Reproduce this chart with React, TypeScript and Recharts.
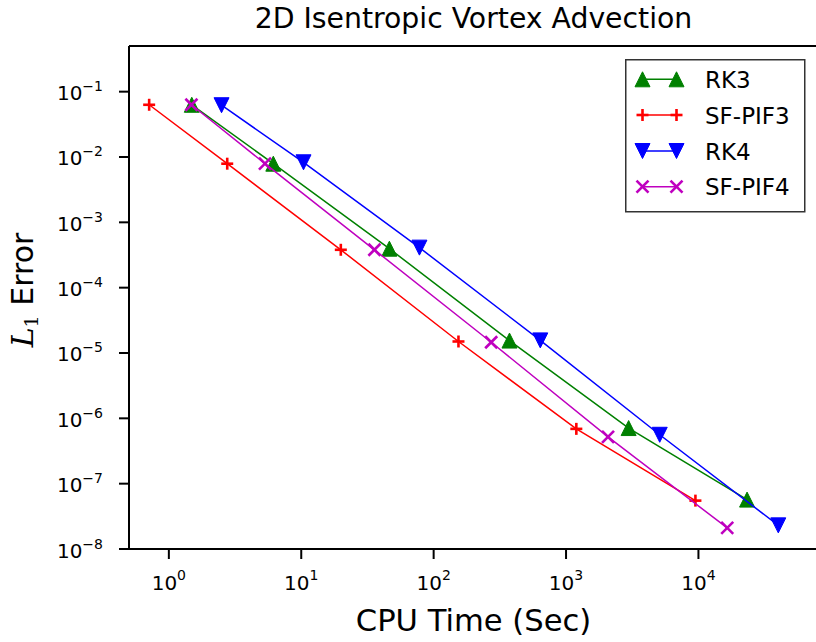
import React from 'react';
import { ScatterChart, Scatter, XAxis, YAxis, Legend, Label } from 'recharts';

const FONT = '"DejaVu Sans", sans-serif';

// CPU time (s) and L1 error for each time integrator
const rk3Time = [1.49, 6.15, 46.3, 374, 2970, 23300];
const rk3Err = [0.063, 0.0079, 3.95e-4, 1.55e-5, 7.1e-7, 5.7e-8];
const pif3Time = [0.71, 2.76, 19.9, 154, 1196, 9490];
const pif3Err = [0.063, 0.0079, 3.8e-4, 1.5e-5, 6.9e-7, 5.5e-8];
const rk4Time = [2.5, 10.4, 78.1, 639, 5100, 40100];
const rk4Err = [0.062, 0.0083, 4.1e-4, 1.56e-5, 5.6e-7, 2.3e-8];
const pif4Time = [1.48, 5.32, 35.7, 272, 2075, 16500];
const pif4Err = [0.063, 0.0079, 3.8e-4, 1.46e-5, 5.2e-7, 2.1e-8];

const seriesNames = ['RK3', 'SF-PIF3', 'RK4', 'SF-PIF4'];

// Axis limits and decade ticks
const xDomain = [0.5, 8e4];
const yDomain = [1e-8, 0.5];
const xMajor = [1, 10, 100, 1000, 10000];
const yMajor = [1e-8, 1e-7, 1e-6, 1e-5, 1e-4, 1e-3, 1e-2, 1e-1];

const minorTicks = (lo: number, hi: number) => {
  const out: number[] = [];
  for (let k = Math.floor(Math.log10(lo)); k <= Math.ceil(Math.log10(hi)); k++) {
    for (let m = 2; m <= 9; m++) {
      const v = m * Math.pow(10, k);
      if (v >= lo * 0.999 && v <= hi * 1.001) out.push(v);
    }
  }
  return out;
};
const xMinor = minorTicks(xDomain[0], xDomain[1]);
const yMinor = minorTicks(yDomain[0], yDomain[1]);

const toPoints = (t: number[], e: number[]) => t.map((v, i) => ({ t: v, err: e[i] }));

const GREEN = '#008000';
const RED = '#ff0000';
const BLUE = '#0000ff';
const MAGENTA = '#bf00bf';

type MarkerKind = 'up' | 'plus' | 'down' | 'cross';

const Marker = ({ cx, cy, kind, color }: { cx: number; cy: number; kind: MarkerKind; color: string }) => {
  const h = 7.5;
  if (kind === 'up') {
    return (
      <polygon
        points={`${cx},${cy - h} ${cx - h},${cy + h} ${cx + h},${cy + h}`}
        fill={color}
        stroke={color}
        strokeWidth={1}
        strokeLinejoin="miter"
      />
    );
  }
  if (kind === 'down') {
    return (
      <polygon
        points={`${cx},${cy + h} ${cx - h},${cy - h} ${cx + h},${cy - h}`}
        fill={color}
        stroke={color}
        strokeWidth={1}
        strokeLinejoin="miter"
      />
    );
  }
  if (kind === 'plus') {
    const s = 6;
    return (
      <g stroke={color} strokeWidth={2.6}>
        <line x1={cx - s} y1={cy} x2={cx + s} y2={cy} />
        <line x1={cx} y1={cy - s} x2={cx} y2={cy + s} />
      </g>
    );
  }
  const s = 6;
  return (
    <g stroke={color} strokeWidth={2.6}>
      <line x1={cx - s} y1={cy - s} x2={cx + s} y2={cy + s} />
      <line x1={cx - s} y1={cy + s} x2={cx + s} y2={cy - s} />
    </g>
  );
};

const series = [
  { name: seriesNames[0], data: toPoints(rk3Time, rk3Err), color: GREEN, kind: 'up' as MarkerKind },
  { name: seriesNames[1], data: toPoints(pif3Time, pif3Err), color: RED, kind: 'plus' as MarkerKind },
  { name: seriesNames[2], data: toPoints(rk4Time, rk4Err), color: BLUE, kind: 'down' as MarkerKind },
  { name: seriesNames[3], data: toPoints(pif4Time, pif4Err), color: MAGENTA, kind: 'cross' as MarkerKind },
];

const expLabel = (v: number) => {
  const e = Math.round(Math.log10(v));
  return e < 0 ? `\u2212${-e}` : `${e}`;
};

const XTick = (props: any) => {
  const { x, y, payload } = props;
  return (
    <text x={x} y={y + 31} textAnchor="middle" fontFamily={FONT} fontSize={20} fill="#000">
      <tspan>10</tspan>
      <tspan dy={-10} fontSize={14}>{expLabel(payload.value)}</tspan>
    </text>
  );
};

const YTick = (props: any) => {
  const { x, y, payload } = props;
  return (
    <text x={x} y={y + 8.5} textAnchor="end" fontFamily={FONT} fontSize={20} fill="#000">
      <tspan>10</tspan>
      <tspan dy={-9} fontSize={14}>{expLabel(payload.value)}</tspan>
    </text>
  );
};

const LegendBox = () => {
  const rowY = [20.3, 56, 92, 127.7];
  return (
    <svg width={181} height={154} style={{ display: 'block' }}>
      <rect x={0.75} y={0.75} width={179} height={152} fill="#fff" stroke="#333" strokeWidth={1.5} />
      {series.map((s, i) => (
        <g key={s.name}>
          <line x1={17.5} y1={rowY[i]} x2={51.5} y2={rowY[i]} stroke={s.color} strokeWidth={1.5} />
          <Marker cx={17.5} cy={rowY[i]} kind={s.kind} color={s.color} />
          <Marker cx={51.5} cy={rowY[i]} kind={s.kind} color={s.color} />
          <text x={80} y={rowY[i] + 8.5} fontFamily={FONT} fontSize={23} fill="#000">
            {s.name}
          </text>
        </g>
      ))}
    </svg>
  );
};

export default function App() {
  return (
    <div style={{ position: 'absolute', left: 0, top: 0, width: 816, height: 642, overflow: 'hidden', background: '#fff' }}>
      <svg width={816} height={40} style={{ position: 'absolute', left: 0, top: 0 }}>
        <text x={473.5} y={28} textAnchor="middle" fontFamily={FONT} fontSize={28.3} fill="#000">
          2D Isentropic Vortex Advection
        </text>
      </svg>
      <div style={{ position: 'absolute', left: 0, top: 0 }}>
        <ScatterChart width={830} height={642} margin={{ top: 46, right: 12, bottom: 33, left: 0 }}>
          {/* minor log ticks: zero-size axes sitting on the frame */}
          <XAxis
            xAxisId="minor"
            dataKey="t"
            type="number"
            scale="log"
            domain={xDomain}
            allowDataOverflow
            ticks={xMinor}
            interval={0}
            tick={false}
            tickSize={5}
            tickLine={{ stroke: '#000', strokeWidth: 1.3 }}
            axisLine={false}
            height={0}
          />
          <YAxis
            yAxisId="minor"
            dataKey="err"
            type="number"
            scale="log"
            domain={yDomain}
            allowDataOverflow
            ticks={yMinor}
            interval={0}
            tick={false}
            tickSize={5}
            tickLine={{ stroke: '#000', strokeWidth: 1.3 }}
            axisLine={false}
            width={0}
          />
          <XAxis
            xAxisId="main"
            dataKey="t"
            type="number"
            scale="log"
            domain={xDomain}
            allowDataOverflow
            ticks={xMajor}
            interval={0}
            tick={<XTick />}
            tickSize={10}
            tickMargin={0}
            tickLine={{ stroke: '#000', strokeWidth: 2 }}
            axisLine={{ stroke: '#000', strokeWidth: 2 }}
            height={60}
          >
            <Label
              content={(p: any) => {
                const vb = p.viewBox || { x: 129, y: 549, width: 689 };
                return (
                  <text x={vb.x + vb.width / 2} y={vb.y + 82} textAnchor="middle" fontFamily={FONT} fontSize={30.6} fill="#000">
                    CPU Time (Sec)
                  </text>
                );
              }}
            />
          </XAxis>
          <YAxis
            yAxisId="main"
            dataKey="err"
            type="number"
            scale="log"
            domain={yDomain}
            allowDataOverflow
            ticks={yMajor}
            interval={0}
            tick={<YTick />}
            tickSize={10}
            tickMargin={16}
            tickLine={{ stroke: '#000', strokeWidth: 2 }}
            axisLine={{ stroke: '#000', strokeWidth: 2 }}
            width={129}
          >
            <Label
              content={() => (
                <text x={33} y={290} transform="rotate(-90, 33, 290)" textAnchor="middle" fontFamily={FONT} fontSize={30} fill="#000">
                  <tspan fontFamily='"DejaVu Serif", serif' fontStyle="italic">L</tspan>
                  <tspan fontFamily='"DejaVu Serif", serif' fontSize={19} dy={5}>1</tspan>
                  <tspan dy={-5}> Error</tspan>
                </text>
              )}
            />
          </YAxis>
          {series.map((s) => (
            <Scatter
              key={s.name}
              name={s.name}
              data={s.data}
              xAxisId="main"
              yAxisId="main"
              fill={s.color}
              line={{ stroke: s.color, strokeWidth: 1.5 }}
              shape={(p: any) => <Marker cx={p.cx} cy={p.cy} kind={s.kind} color={s.color} />}
              isAnimationActive={false}
            />
          ))}
          <Legend
            layout="horizontal"
            verticalAlign="middle"
            align="center"
            content={() => <LegendBox />}
            wrapperStyle={{ left: 625, top: 59, width: 181, height: 154 }}
          />
        </ScatterChart>
      </div>
      {/* top and right frame edges of the axes box */}
      <svg width={816} height={642} style={{ position: 'absolute', left: 0, top: 0, pointerEvents: 'none' }}>
        <line x1={129} y1={46} x2={818} y2={46} stroke="#000" strokeWidth={2} />
        <line x1={818} y1={46} x2={818} y2={549} stroke="#000" strokeWidth={2} />
      </svg>
    </div>
  );
}
